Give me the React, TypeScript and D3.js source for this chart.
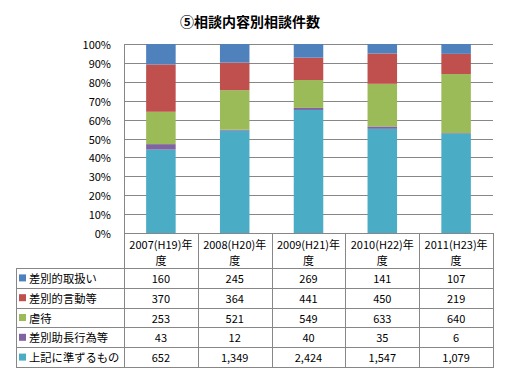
import React from "react";
import * as d3 from "d3";

const categories = ["2007(H19)年度", "2008(H20)年度", "2009(H21)年度", "2010(H22)年度", "2011(H23)年度"];
const categoryLine1 = ["2007(H19)年", "2008(H20)年", "2009(H21)年", "2010(H22)年", "2011(H23)年"];
const categoryLine2 = ["度", "度", "度", "度", "度"];
const seriesNames = ["差別的取扱い", "差別的言動等", "虐待", "差別助長行為等", "上記に準ずるもの"];
const seriesColors = ["#4F81BD", "#C0504D", "#9BBB59", "#8064A2", "#4BACC6"];
const s1 = [160, 245, 269, 141, 107];
const s2 = [370, 364, 441, 450, 219];
const s3 = [253, 521, 549, 633, 640];
const s4 = [43, 12, 40, 35, 6];
const s5 = [652, 1349, 2424, 1547, 1079];
const seriesValues = [s1, s2, s3, s4, s5];
const yTicks = [0, 0.1, 0.2, 0.3, 0.4, 0.5, 0.6, 0.7, 0.8, 0.9, 1.0];
const title = "⑤相談内容別相談件数";

const W = 510, H = 378;
const plotL = 124, plotR = 493, plotT = 44, plotB = 233;
const tableL = 16, headerB = 268, rowH = 19.8;
const font = "'Noto Sans CJK JP', 'Noto Sans', sans-serif";
const gridColor = "#878787";

export default function App() {
  const x = d3.scaleBand<string>().domain(categories).range([plotL, plotR]).paddingInner(0.6).paddingOuter(0.3);
  const xCol = d3.scaleBand<string>().domain(categories).range([plotL, plotR]);
  const y = d3.scaleLinear().domain([0, 1]).range([plotB, plotT]);
  const fmt = d3.format(",");

  const rows = categories.map((c, i) => {
    const o: any = { cat: c };
    seriesNames.forEach((n, k) => (o[n] = seriesValues[k][i]));
    return o;
  });
  const stackKeys = [...seriesNames].reverse();
  const stacked = d3.stack<any>().keys(stackKeys).offset(d3.stackOffsetExpand)(rows);

  const nRows = seriesNames.length;
  const tableB = headerB + rowH * nRows;

  return (
    <svg width={W} height={H} style={{ position: "absolute", left: 0, top: 0, background: "#fff" }} fontFamily={font}>
      <text x={250} y={21} textAnchor="middle" dominantBaseline="central" fontSize={14} fontWeight="bold" fill="#000">{title}</text>
      {yTicks.map((t) => (
        <line key={t} x1={plotL} x2={plotR} y1={Math.round(y(t)) + 0.5} y2={Math.round(y(t)) + 0.5} stroke={gridColor} strokeWidth={1} />
      ))}
      {yTicks.map((t) => (
        <text key={"l" + t} x={111} y={y(t)} textAnchor="end" dominantBaseline="central" fontSize={11} fill="#000">{Math.round(t * 100) + "%"}</text>
      ))}
      <line x1={plotL + 0.5} x2={plotL + 0.5} y1={plotT} y2={plotB} stroke={gridColor} />
      {stacked.map((layer) => {
        const k = seriesNames.indexOf(layer.key);
        return (
          <g key={layer.key}>
            {layer.map((d, i) => (
              <rect key={i} x={x(categories[i])} width={x.bandwidth()} y={y(d[1])} height={y(d[0]) - y(d[1])} fill={seriesColors[k]} />
            ))}
          </g>
        );
      })}
      <g stroke={gridColor} strokeWidth={1}>
        <line x1={plotL} x2={plotR} y1={plotB + 0.5} y2={plotB + 0.5} />
        {categories.map((c) => (
          <line key={c} x1={Math.round(xCol(c)!) + 0.5} x2={Math.round(xCol(c)!) + 0.5} y1={plotB} y2={tableB} />
        ))}
        <line x1={plotR + 0.5} x2={plotR + 0.5} y1={plotB} y2={tableB} />
        <line x1={tableL + 0.5} x2={tableL + 0.5} y1={headerB} y2={tableB} />
        {d3.range(nRows + 1).map((r) => (
          <line key={r} x1={tableL} x2={plotR + 1} y1={Math.round(headerB + r * rowH) + 0.5} y2={Math.round(headerB + r * rowH) + 0.5} />
        ))}
      </g>
      {categories.map((c, i) => (
        <g key={"h" + c}>
          <text x={xCol(c)! + xCol.bandwidth() / 2} y={244} textAnchor="middle" dominantBaseline="central" fontSize={11} fill="#000">{categoryLine1[i]}</text>
          <text x={xCol(c)! + xCol.bandwidth() / 2} y={260} textAnchor="middle" dominantBaseline="central" fontSize={11} fill="#000">{categoryLine2[i]}</text>
        </g>
      ))}
      {seriesNames.map((n, k) => {
        const cy = headerB + rowH * k + rowH / 2;
        return (
          <g key={n}>
            <rect x={19} y={cy - 3.5} width={7} height={7} fill={seriesColors[k]} />
            <text x={29} y={cy} dominantBaseline="central" fontSize={11.3} fill="#000">{n}</text>
            {categories.map((c) => (
              <text key={c} x={xCol(c)! + xCol.bandwidth() / 2} y={cy} textAnchor="middle" dominantBaseline="central" fontSize={11} fill="#000">{fmt(seriesValues[k][i_of(c)])}</text>
            ))}
          </g>
        );
      })}
    </svg>
  );
}

function i_of(c: string) {
  return categories.indexOf(c);
}
